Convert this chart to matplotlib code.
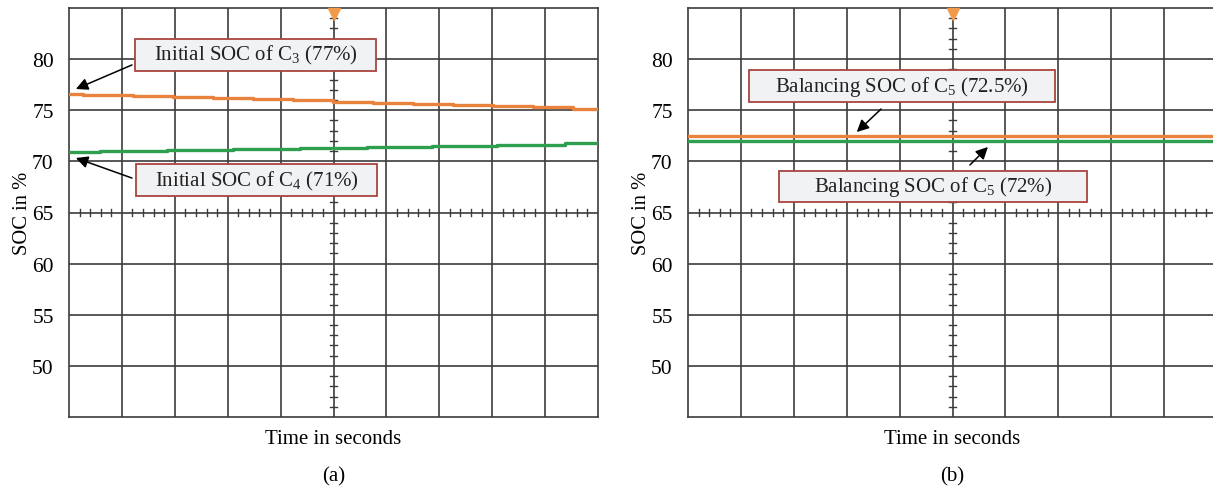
import matplotlib
matplotlib.use("Agg")
import matplotlib.pyplot as plt
from matplotlib.patches import Rectangle

plt.rcParams["font.family"] = ["Liberation Serif", "DejaVu Serif"]
plt.rcParams["mathtext.fontset"] = "custom"
plt.rcParams["mathtext.rm"] = "Liberation Serif"
plt.rcParams["mathtext.it"] = "Liberation Serif:italic"

# ---- data -------------------------------------------------------------
# (a) before balancing: stepped SOC traces of C3 and C4 (time in divisions)
c3_time = [0, 0.26, 1.21, 1.97, 2.72, 3.48, 4.23, 4.99, 5.75, 6.50, 7.26, 8.02, 8.77, 9.53, 10]
c3_soc = [76.6, 76.5, 76.4, 76.3, 76.2, 76.1, 76.0, 75.85, 75.75, 75.65, 75.55, 75.45, 75.3, 75.15, 75.15]
c4_time = [0, 0.59, 1.85, 3.10, 4.37, 5.63, 6.86, 8.10, 9.37, 10]
c4_soc = [70.9, 71.0, 71.1, 71.2, 71.3, 71.4, 71.5, 71.6, 71.75, 71.75]

# (b) after balancing: flat SOC levels
bal_time = [0, 10]
bal_hi = [72.5, 72.5]
bal_lo = [72.0, 72.0]

y_ticks = [50, 55, 60, 65, 70, 75, 80]

ORANGE = "#E8823C"
GREEN = "#2E9E4F"
GRID = "#3c3c3c"
BOX_FACE = "#F1F2F4"
BOX_EDGE = "#A8453F"

W, H = 1213, 489
fig = plt.figure(figsize=(W / 100, H / 100), dpi=100)


def px_axes(left, top, width, height):
    return fig.add_axes([left / W, 1 - (top + height) / H, width / W, height / H])


def scope_frame(ax, label):
    ax.set_xlim(0, 10)
    ax.set_ylim(45, 85)
    ax.set_xticks([])
    ax.set_yticks(y_ticks)
    ax.set_yticklabels([str(v) for v in y_ticks], fontsize=15.5)
    ax.tick_params(axis="y", length=0, pad=11)
    for s in ax.spines.values():
        s.set_color(GRID)
        s.set_linewidth(1.2)
    for x in range(1, 10):
        ax.axvline(x, color=GRID, lw=1.2, zorder=1)
    for y in range(50, 85, 5):
        ax.axhline(y, color=GRID, lw=1.2, zorder=1)
    # graticule ticks on the centre cross
    for y in range(46, 85):
        if y % 5:
            ax.plot([4.93, 5.07], [y, y], color=GRID, lw=1.0, zorder=1)
    for i in range(1, 50):
        if i % 5:
            x = i / 5
            ax.plot([x, x], [64.65, 65.35], color=GRID, lw=1.0, zorder=1)
    ax.plot([5], [84.45], marker="v", color="#F39A4A", markersize=8,
            clip_on=False, zorder=5)
    ax.set_ylabel("SOC in %", fontsize=14.8, labelpad=0)
    ax.set_xlabel("Time in seconds", fontsize=15, labelpad=9)
    ax.text(5, -0.145, label, transform=ax.get_xaxis_transform(),
            ha="center", va="center", fontsize=15)


def callout(ax, x0, x1, y0, y1, text):
    ax.add_patch(Rectangle((x0, y0), x1 - x0, y1 - y0, facecolor=BOX_FACE,
                           edgecolor=BOX_EDGE, lw=1.3, zorder=6))
    ax.text((x0 + x1) / 2, (y0 + y1) / 2, text, ha="center", va="center",
            fontsize=15, zorder=7, color="#222222")


def pointer(ax, tail, head):
    ax.annotate("", xy=head, xytext=tail, zorder=8,
                arrowprops=dict(arrowstyle="-|>", color="black", lw=1.1,
                                mutation_scale=18, shrinkA=0, shrinkB=0))


# ---- panel (a) ---------------------------------------------------------
ax1 = px_axes(69, 9, 529, 409)
scope_frame(ax1, "(a)")
ax1.step(c3_time, c3_soc, where="post", color=ORANGE, lw=2.4, zorder=3)
ax1.step(c4_time, c4_soc, where="post", color=GREEN, lw=2.4, zorder=3)
callout(ax1, 1.25, 5.80, 78.84, 81.97, r"Initial SOC of C$_\mathregular{3}$ (77%)")
callout(ax1, 1.27, 5.82, 66.61, 69.74, r"Initial SOC of C$_\mathregular{4}$ (71%)")
pointer(ax1, (1.19, 79.43), (0.13, 77.08))
pointer(ax1, (1.19, 68.37), (0.13, 70.33))

# ---- panel (b) ---------------------------------------------------------
ax2 = px_axes(688, 9, 529, 409)
scope_frame(ax2, "(b)")
ax2.plot(bal_time, bal_lo, color=GREEN, lw=2.4, zorder=3)
ax2.plot(bal_time, bal_hi, color=ORANGE, lw=2.4, zorder=3)
callout(ax2, 1.15, 6.94, 75.81, 78.94, r"Balancing SOC of C$_\mathregular{5}$ (72.5%)")
callout(ax2, 1.72, 7.54, 66.03, 69.06, r"Balancing SOC of C$_\mathregular{5}$ (72%)")
pointer(ax2, (3.65, 75.12), (3.19, 72.87))
pointer(ax2, (5.33, 69.65), (5.67, 71.41))

fig.savefig("out.png", dpi=100)
